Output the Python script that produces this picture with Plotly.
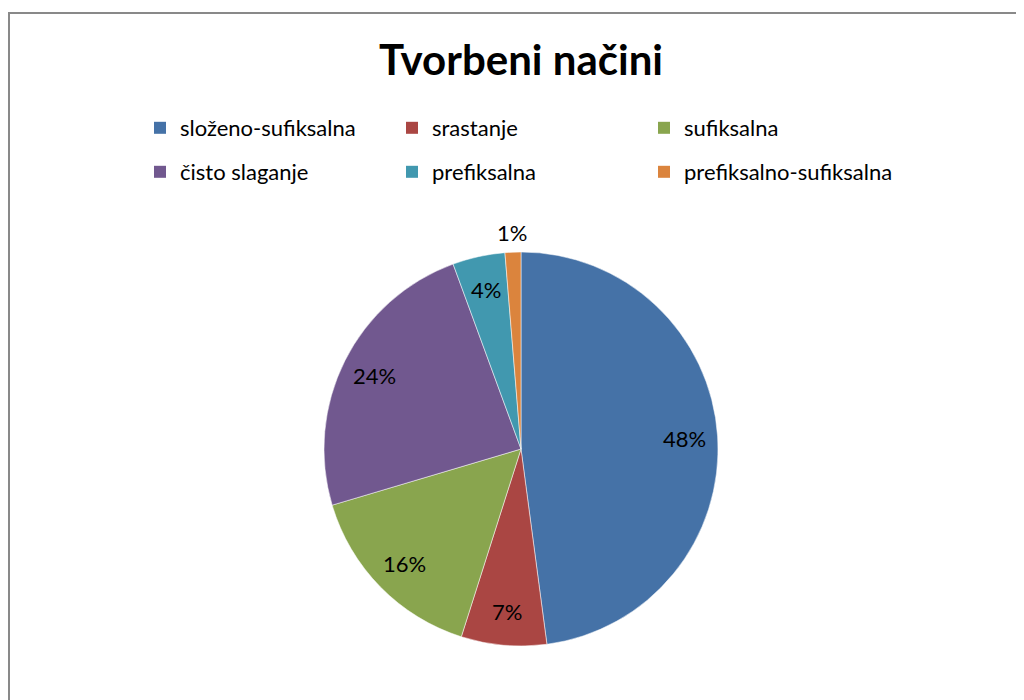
import math
import plotly.graph_objects as go

# ---- data ----
categories = ["složeno-sufiksalna", "srastanje", "sufiksalna",
              "čisto slaganje", "prefiksalna", "prefiksalno-sufiksalna"]
values = [47.9, 7.0, 15.5, 24.0, 4.3, 1.3]
colors = ["#4572A7", "#AA4643", "#89A54E", "#71588F", "#4198AF", "#DB843D"]
title_text = "Tvorbeni načini"

# ---- geometry / style ----
W, H = 1024, 700
OFF = 8  # page body margin offset
cx, cy, R = 521 - OFF, 449 - OFF, 197
FONT = "Lato"

fig = go.Figure()
fig.add_trace(go.Pie(
    labels=categories, values=values, sort=False,
    direction="clockwise", rotation=0,
    marker=dict(colors=colors, line=dict(color="rgba(255,255,255,0.5)", width=1)),
    textinfo="none", hoverinfo="label+percent", showlegend=False,
    domain=dict(x=[(cx - R) / W, (cx + R) / W], y=[1 - (cy + R) / H, 1 - (cy - R) / H]),
))

# percentage labels placed along slice bisectors (computed from values)
total = sum(values)
cum = 0.0
for v in values:
    frac = v / total
    mid = (cum + frac / 2) * 2 * math.pi
    cum += frac
    k = 1.1 if frac < 0.02 else 0.83
    px = cx + k * R * math.sin(mid)
    py = cy - k * R * math.cos(mid)
    fig.add_annotation(x=px / W, y=1 - py / H, xref="paper", yref="paper",
                       text=f"{round(frac * 100)}%", showarrow=False,
                       xanchor="center", yanchor="middle",
                       font=dict(family=FONT, size=22, color="black"))

# legend entries (two rows of three)
for i, (c, col) in enumerate(zip(categories, colors)):
    fig.add_trace(go.Scatter(
        x=[None], y=[None], mode="markers",
        marker=dict(symbol="square", size=12, color=col),
        name=c, legend="legend" if i < 3 else "legend2", hoverinfo="skip",
    ))

leg_common = dict(orientation="h", xanchor="left", yanchor="middle",
                  entrywidth=207, entrywidthmode="pixels",
                  font=dict(family=FONT, size=22, color="black"),
                  bgcolor="rgba(0,0,0,0)", borderwidth=0)

fig.update_layout(
    width=W, height=H,
    margin=dict(l=0, r=0, t=0, b=0),
    paper_bgcolor="white", plot_bgcolor="white",
    xaxis=dict(visible=False), yaxis=dict(visible=False),
    legend=dict(x=(140 - OFF) / W, y=1 - (128 - OFF) / H, **leg_common),
    legend2=dict(x=(140 - OFF) / W, y=1 - (172 - OFF) / H, **leg_common),
    title=dict(text=f"<b>{title_text}</b>", x=(521 - OFF) / W, xanchor="center",
               y=1 - (60 - OFF) / H, yanchor="middle", yref="container",
               font=dict(family=FONT, size=42, color="black")),
    shapes=[dict(type="rect", xref="paper", yref="paper",
                 x0=1 / W, x1=1.05, y0=-0.05, y1=1 - (13 - OFF) / H,
                 line=dict(color="#898989", width=2), fillcolor="rgba(0,0,0,0)")],
    showlegend=True,
)

fig.write_html("out.html")
